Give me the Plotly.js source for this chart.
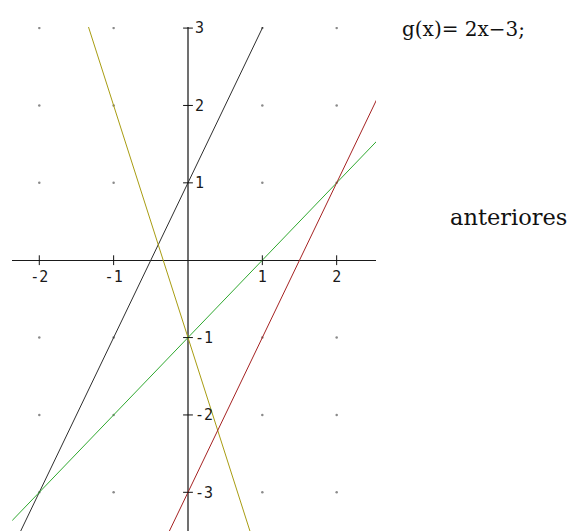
<!DOCTYPE html>
<html>
<head>
<meta charset="utf-8">
<script src="https://cdn.plot.ly/plotly-3.0.1.min.js"></script>
<style>
  html, body { margin: 0; padding: 0; background: #fff; }
  #plotDiv { width: 571px; height: 531px; }
</style>
</head>
<body>
<div id="plotDiv"></div>
<script>
// tick values and labels
const xTickVals = [-2, -1, 1, 2];
const xTickText = ['-2', '-1', '1', '2'];
const yTickVals = [-3, -2, -1, 1, 2, 3];
const yTickText = ['-3', '-2', '-1', '1', '2', '3'];

// each line as two points, clipped by the plot area
const blackX = [-3, 2];
const blackY = [-5, 5];      // y = 2x + 1
const oliveX = [-2, 1];
const oliveY = [5, -4];      // y = -3x - 1
const greenX = [-3, 3];
const greenY = [-4, 2];      // y = x - 1
const redX = [-1, 3];
const redY = [-5, 3];        // y = 2x - 3

const xRange = [-2.363, 2.529];
const yRange = [-3.5, 3.014];
const xDomain = [12.3 / 571, 376 / 571];
const yDomain = [0, 1 - 27 / 531];

// where the zero of one axis sits in paper coordinates
const xAxisPos = yDomain[0] + (0 - yRange[0]) / (yRange[1] - yRange[0]) * (yDomain[1] - yDomain[0]);
const yAxisPos = xDomain[0] + (0 - xRange[0]) / (xRange[1] - xRange[0]) * (xDomain[1] - xDomain[0]);

// dotted lattice at the integer points
const dotX = [], dotY = [];
xTickVals.forEach(x => yTickVals.forEach(y => { dotX.push(x); dotY.push(y); }));

const lineStyle = c => ({color: c, width: 1});

const traceDots = {
    x: dotX, y: dotY, mode: 'markers', hoverinfo: 'skip',
    marker: {color: '#8a8a8a', size: 2.5}
};
const traceBlack = {x: blackX, y: blackY, mode: 'lines', line: lineStyle('#2e2e2e')};
const traceOlive = {x: oliveX, y: oliveY, mode: 'lines', line: lineStyle('#a89c12')};
const traceGreen = {x: greenX, y: greenY, mode: 'lines', line: lineStyle('#2fa82f')};
const traceRed = {x: redX, y: redY, mode: 'lines', line: lineStyle('#a52222')};
const traceXTicks = {
    x: xTickVals, y: xTickVals.map(() => 0), mode: 'markers', hoverinfo: 'skip',
    marker: {symbol: 'line-ns', size: 7, line: {color: '#111', width: 1}}
};
const traceYTicks = {
    x: yTickVals.map(() => 0), y: yTickVals, mode: 'markers', hoverinfo: 'skip',
    marker: {symbol: 'line-ew', size: 7, line: {color: '#111', width: 1}}
};

const tickFont = {family: 'DejaVu Sans Mono, monospace', size: 15, color: '#1a1a1a'};

const layout = {
    width: 571,
    height: 531,
    margin: {l: 0, r: 0, t: 0, b: 0},
    paper_bgcolor: '#ffffff',
    plot_bgcolor: '#ffffff',
    showlegend: false,
    xaxis: {
        range: xRange, domain: xDomain, anchor: 'free', position: xAxisPos,
        showgrid: false, showline: false,
        zeroline: true, zerolinecolor: '#707070', zerolinewidth: 2,
        tickmode: 'array', tickvals: xTickVals, ticktext: xTickText,
        ticks: '', ticklabelstandoff: 6, tickfont: tickFont, fixedrange: true
    },
    yaxis: {
        range: yRange, domain: yDomain, anchor: 'free', position: yAxisPos, side: 'right',
        showgrid: false, showline: false,
        zeroline: true, zerolinecolor: '#1a1a1a', zerolinewidth: 1.2,
        tickmode: 'array', tickvals: yTickVals, ticktext: yTickText,
        ticks: '', ticklabelstandoff: 6, tickfont: tickFont, fixedrange: true
    },
    annotations: [
        {
            text: 'g(x)= 2x−3;', xref: 'paper', yref: 'paper',
            x: 400 / 571, y: 1 - 29 / 531, xanchor: 'left', yanchor: 'middle',
            showarrow: false,
            font: {family: 'DejaVu Serif, serif', size: 20, color: '#111'}
        },
        {
            text: 'anteriores', xref: 'paper', yref: 'paper',
            x: 448 / 571, y: 1 - 217 / 531, xanchor: 'left', yanchor: 'middle',
            showarrow: false,
            font: {family: 'DejaVu Serif, serif', size: 22.5, color: '#111'}
        }
    ]
};

const data = [traceDots, traceBlack, traceOlive, traceGreen, traceRed, traceXTicks, traceYTicks];

Plotly.newPlot('plotDiv', data, layout, {displayModeBar: false, staticPlot: true}).catch(error => {
    console.error('Error in plot:', error);
});
</script>
</body>
</html>
